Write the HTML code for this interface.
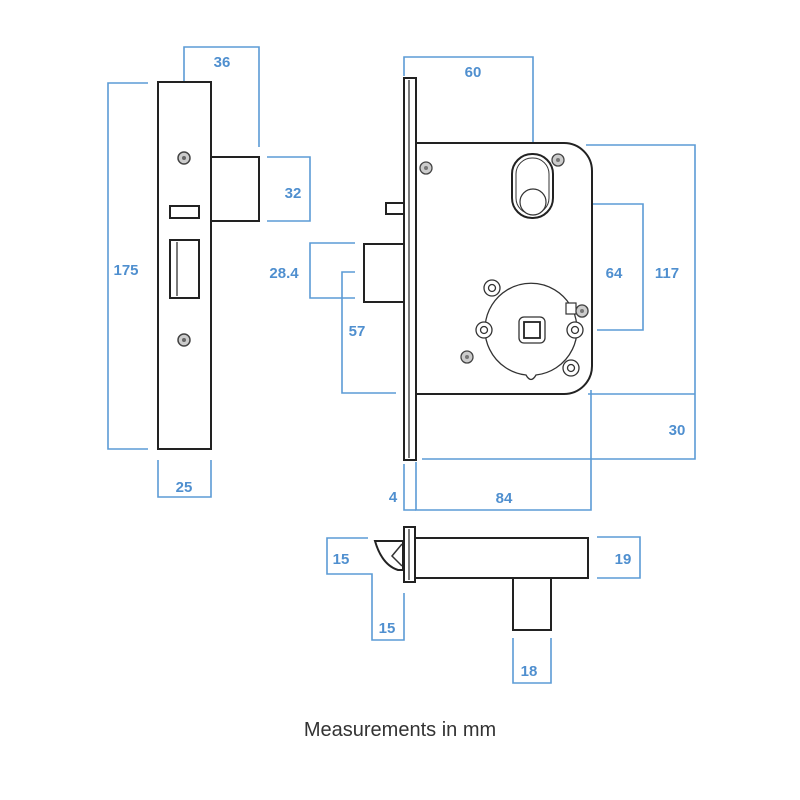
<!DOCTYPE html>
<html><head><style>
html,body{margin:0;padding:0;background:#fff;width:800px;height:800px;overflow:hidden}
svg{display:block}
.b{fill:none;stroke:#5b9bd5;stroke-width:1.6}
.k{fill:#fff;stroke:#222;stroke-width:2}
.t{fill:none;stroke:#333;stroke-width:1.3}
.l{font-family:"Liberation Sans",sans-serif;font-size:15px;font-weight:bold;fill:#4f8fcf;text-anchor:middle}
</style></head><body>
<svg width="800" height="800" viewBox="0 0 800 800">
<!-- LEFT FACEPLATE -->
<path class="b" d="M184,148 V47 H259 V147"/>
<text class="l" x="222" y="67">36</text>
<path class="b" d="M148,83 H108 V449 H148"/>
<text class="l" x="126" y="275">175</text>
<path class="b" d="M267,157 H310 V221 H267"/>
<text class="l" x="293" y="198">32</text>
<path class="b" d="M158,460 V497 H211 V460"/>
<text class="l" x="184" y="492">25</text>
<rect class="k" x="158" y="82" width="53" height="367"/>
<rect class="k" x="211" y="157" width="48" height="64"/>
<rect class="k" x="170" y="206" width="29" height="12"/>
<rect class="k" x="170" y="240" width="29" height="58"/>
<line class="t" x1="177" y1="242" x2="177" y2="296"/>
<circle cx="184" cy="158" r="6" fill="#ccc" stroke="#444" stroke-width="1.5"/><circle cx="184" cy="158" r="2" fill="#666"/>
<circle cx="184" cy="340" r="6" fill="#ccc" stroke="#444" stroke-width="1.5"/><circle cx="184" cy="340" r="2" fill="#666"/>

<!-- MIDDLE -->
<path class="b" d="M404,76 V57 H533 V176"/>
<text class="l" x="473" y="77">60</text>
<path class="b" d="M355,243 H310 V298 H355"/>
<text class="l" x="284" y="278">28.4</text>
<path class="b" d="M355,272 H342 V393 H396"/>
<text class="l" x="357" y="336">57</text>
<path class="b" d="M555,204 H643 V330 H597"/>
<text class="l" x="614" y="278">64</text>
<path class="b" d="M586,145 H695 V459 H422"/>
<path class="b" d="M588,394 H695"/>
<text class="l" x="667" y="278">117</text>
<text class="l" x="677" y="435">30</text>
<path class="b" d="M591,390 V510 H416 V462"/>
<path class="b" d="M404,464 V510 H416"/>
<text class="l" x="393" y="502">4</text>
<text class="l" x="504" y="503">84</text>

<rect class="k" x="386" y="203" width="18" height="11"/>
<rect class="k" x="364" y="244" width="40" height="58"/>
<path class="k" d="M416,143 H564 A28,28 0 0 1 592,171 V366 A28,28 0 0 1 564,394 H416 Z"/>
<rect class="k" x="404" y="78" width="12" height="382"/>
<line class="t" x1="409" y1="80" x2="409" y2="458"/>
<rect class="k" x="512" y="154" width="41" height="64" rx="20" stroke-width="1.6"/>
<rect x="516" y="158" width="33" height="56" rx="16" fill="none" stroke="#333" stroke-width="1"/>
<circle cx="533" cy="202" r="13" fill="#fff" stroke="#333" stroke-width="1.2"/>
<g fill="#ccc" stroke="#444" stroke-width="1.3">
<circle cx="426" cy="168" r="6"/><circle cx="558" cy="160" r="6"/><circle cx="467" cy="357" r="6"/><circle cx="582" cy="311" r="6"/>
</g>
<g fill="#777"><circle cx="426" cy="168" r="2"/><circle cx="558" cy="160" r="2"/><circle cx="467" cy="357" r="2"/><circle cx="582" cy="311" r="2"/></g>
<path d="M526,375 A46,46 0 1 1 536,375 Q531,384 526,375 Z" fill="#fff" stroke="#333" stroke-width="1.3"/>
<rect x="566" y="303" width="10" height="11" fill="#fff" stroke="#333" stroke-width="1.2"/>
<circle cx="582" cy="311" r="6" fill="#ccc" stroke="#444" stroke-width="1.3"/><circle cx="582" cy="311" r="2" fill="#777"/>
<rect x="519" y="317" width="26" height="26" rx="5" fill="#fff" stroke="#333" stroke-width="1.3"/>
<rect x="524" y="322" width="16" height="16" fill="#fff" stroke="#222" stroke-width="1.8"/>
<g fill="#fff" stroke="#333" stroke-width="1.3">
<circle cx="484" cy="330" r="8"/><circle cx="484" cy="330" r="3.5"/>
<circle cx="575" cy="330" r="8"/><circle cx="575" cy="330" r="3.5"/>
<circle cx="492" cy="288" r="8"/><circle cx="492" cy="288" r="3.5"/>
<circle cx="571" cy="368" r="8"/><circle cx="571" cy="368" r="3.5"/>
</g>

<!-- BOTTOM -->
<path class="b" d="M368,538 H327 V574 H372 V640 H404 V593"/>
<text class="l" x="341" y="564">15</text>
<text class="l" x="387" y="633">15</text>
<path class="b" d="M597,537 H640 V578 H597"/>
<text class="l" x="623" y="564">19</text>
<path class="b" d="M513,638 V683 H551 V638"/>
<text class="l" x="529" y="676">18</text>
<rect class="k" x="415" y="538" width="173" height="40"/>
<rect class="k" x="513" y="578" width="38" height="52"/>
<path class="k" d="M375,541 H403 V570 H398 Q382,565 375,541 Z" stroke-width="1.8"/>
<path d="M402,544 L392,556 L402,566" fill="none" stroke="#333" stroke-width="1.5"/>
<rect class="k" x="404" y="527" width="11" height="55"/>
<line class="t" x1="409" y1="529" x2="409" y2="580"/>

<text x="400" y="736" font-family="Liberation Sans, sans-serif" font-size="20" fill="#333" text-anchor="middle">Measurements in mm</text>
</svg>
</body></html>
